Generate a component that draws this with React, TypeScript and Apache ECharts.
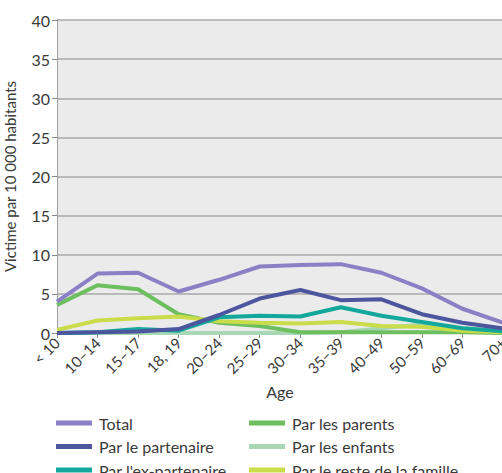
import React, { useEffect, useRef } from "react";
import * as echarts from "echarts";

const categories = ["< 10", "10–14", "15–17", "18, 19", "20–24", "25–29", "30–34", "35–39", "40–49", "50–59", "60–69", "70+"];
const totalValues = [4.0, 7.6, 7.7, 5.3, 6.8, 8.5, 8.7, 8.8, 7.7, 5.7, 3.1, 1.3];
const partenaireValues = [0.0, 0.1, 0.2, 0.5, 2.3, 4.4, 5.5, 4.2, 4.3, 2.4, 1.3, 0.6];
const exPartenaireValues = [0.0, 0.1, 0.5, 0.3, 2.0, 2.2, 2.1, 3.3, 2.2, 1.4, 0.6, 0.2];
const parentsValues = [3.6, 6.1, 5.6, 2.4, 1.3, 0.9, 0.1, 0.1, 0.1, 0.1, 0.1, 0.0];
const enfantsValues = [0.0, 0.0, 0.0, 0.0, 0.0, 0.0, 0.0, 0.1, 0.6, 1.1, 0.6, 0.3];
const resteValues = [0.4, 1.6, 1.9, 2.1, 1.5, 1.3, 1.2, 1.4, 0.9, 0.8, 0.3, 0.1];
const yTicks = [0, 5, 10, 15, 20, 25, 30, 35, 40];

const seriesDefs = [
  { name: "Par les enfants", data: enfantsValues, color: "#a7d7b4" },
  { name: "Par les parents", data: parentsValues, color: "#6dbe5e" },
  { name: "Par le reste de la famille", data: resteValues, color: "#c9dc4a" },
  { name: "Par l'ex-partenaire", data: exPartenaireValues, color: "#13a89b" },
  { name: "Par le partenaire", data: partenaireValues, color: "#4b569e" },
  { name: "Total", data: totalValues, color: "#8b80c6" },
];

const FONT = "Lato, 'Open Sans', sans-serif";
const TEXT = "#3a3a3a";

export default function App() {
  const ref = useRef<HTMLDivElement>(null);
  useEffect(() => {
    if (!ref.current) return;
    const chart = echarts.init(ref.current, null, { renderer: "svg" });
    const legendCommon = {
      orient: "vertical" as const,
      top: 409,
      itemWidth: 36,
      itemHeight: 5,
      itemGap: 5.5,
      icon: "rect",
      textStyle: { fontSize: 16, color: TEXT, fontFamily: FONT, padding: [0, 0, 0, 2], lineHeight: 18 },
      selectedMode: false,
    };
    chart.setOption({
      animation: false,
      backgroundColor: "#ffffff",
      textStyle: { fontFamily: FONT },
      grid: {
        left: 57,
        right: -1,
        top: 20,
        bottom: 157,
        show: true,
        backgroundColor: "#ebebeb",
        borderWidth: 0,
        outerBoundsMode: "none",
        containLabel: false,
      },
      legend: [
        { ...legendCommon, left: 51, data: ["Total", "Par le partenaire", "Par l'ex-partenaire"] },
        { ...legendCommon, left: 244, data: ["Par les parents", "Par les enfants", "Par le reste de la famille"] },
      ],
      xAxis: {
        type: "category",
        data: categories,
        boundaryGap: false,
        name: "Age",
        nameLocation: "middle",
        nameGap: 50,
        nameTextStyle: { fontSize: 16, color: TEXT, fontFamily: FONT },
        axisLine: { show: true, lineStyle: { color: "#a0a0a0", width: 1 } },
        axisTick: { show: true, length: 5, lineStyle: { color: "#8a8a8a" } },
        axisLabel: { rotate: 45, fontSize: 15, color: TEXT, fontFamily: FONT, margin: 7, interval: 0 },
        splitLine: { show: false },
      },
      yAxis: {
        type: "value",
        min: 0,
        max: 40,
        interval: 5,
        name: "Victime par 10 000 habitants",
        nameLocation: "middle",
        nameGap: 40,
        nameTextStyle: { fontSize: 15, color: TEXT, fontFamily: FONT },
        axisLine: { show: true, lineStyle: { color: "#a0a0a0", width: 1 } },
        axisTick: { show: true, length: 5, lineStyle: { color: "#8a8a8a" } },
        axisLabel: {
          fontSize: 16,
          color: TEXT,
          fontFamily: FONT,
          margin: 7,
          formatter: (v: number) => (yTicks.includes(v) ? String(v) : ""),
        },
        splitLine: { show: true, lineStyle: { color: "#a9a9a9", width: 1.5 } },
      },
      series: seriesDefs.map((s) => ({
        name: s.name,
        type: "line",
        data: s.data,
        symbol: "none",
        color: s.color,
        lineStyle: { width: 4, color: s.color },
        itemStyle: { color: s.color },
      })),
    });
    return () => chart.dispose();
  }, []);
  return (
    <div style={{ position: "absolute", left: 0, top: 0, width: 502, height: 473, overflow: "hidden" }}>
      <div ref={ref} style={{ width: 502, height: 490 }} />
    </div>
  );
}
